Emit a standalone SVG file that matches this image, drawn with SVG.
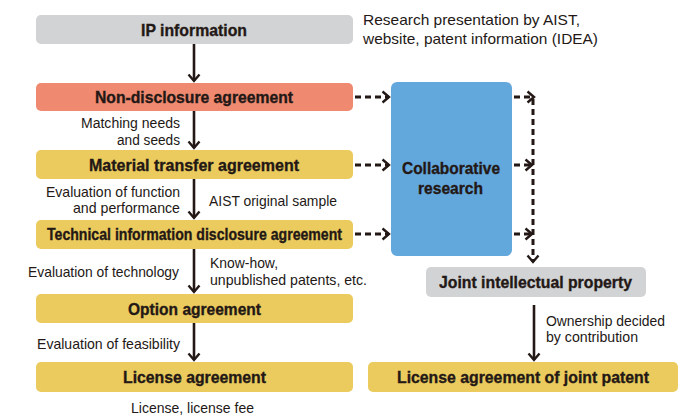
<svg xmlns="http://www.w3.org/2000/svg" width="700" height="416" viewBox="0 0 700 416">
<style>
.box{stroke:none}
.gray{fill:#d2d3d5}
.salmon{fill:#ef8a71}
.yellow{fill:#ebcb5d}
.blue{fill:#63a8dd}
.b{font-family:"Liberation Sans",Arial,sans-serif;font-weight:bold;font-size:17px;fill:#231815;stroke:#231815;stroke-width:0.35}
.t{font-family:"Liberation Sans",Arial,sans-serif;font-size:15px;fill:#231815}
.s{font-size:14px}
.solid{stroke:#231815;stroke-width:2.6;fill:none}
.dash{stroke:#231815;stroke-width:3;fill:none;stroke-dasharray:6 4}
</style>
<defs>
<marker id="ah" markerUnits="userSpaceOnUse" viewBox="0 0 14 14" markerWidth="14" markerHeight="14" refX="9" refY="7" orient="auto">
<path d="M2.5,1.5 L9,7 L2.5,12.5" fill="none" stroke="#231815" stroke-width="2.4"/>
</marker>
</defs>
<g id="connectors">
<line class="solid" x1="194" y1="44" x2="194" y2="81" marker-end="url(#ah)"/>
<line class="solid" x1="194" y1="111" x2="194" y2="148" marker-end="url(#ah)"/>
<line class="solid" x1="194" y1="179" x2="194" y2="218" marker-end="url(#ah)"/>
<line class="solid" x1="194" y1="249" x2="194" y2="292" marker-end="url(#ah)"/>
<line class="solid" x1="194" y1="323" x2="194" y2="360" marker-end="url(#ah)"/>
<line class="solid" x1="534" y1="305" x2="534" y2="360" marker-end="url(#ah)"/>
<line class="dash" x1="355" y1="97" x2="389" y2="97" marker-end="url(#ah)"/>
<line class="dash" x1="355" y1="165" x2="389" y2="165" marker-end="url(#ah)"/>
<line class="dash" x1="355" y1="234" x2="389" y2="234" marker-end="url(#ah)"/>
<line class="dash" x1="514" y1="97" x2="534" y2="97" marker-end="url(#ah)"/>
<line class="dash" x1="514" y1="165" x2="532" y2="165" marker-end="url(#ah)"/>
<line class="dash" x1="514" y1="234" x2="532" y2="234" marker-end="url(#ah)"/>
<line class="dash" x1="533" y1="99" x2="533" y2="262" marker-end="url(#ah)"/>
</g>
<g id="ip-info">
<rect class="box gray" x="36" y="15" width="317" height="29" rx="5"/>
<text class="b" x="141" y="36" textLength="106" lengthAdjust="spacingAndGlyphs">IP information</text>
</g>
<g id="ip-note">
<text class="t" x="363" y="25" textLength="217" lengthAdjust="spacingAndGlyphs">Research presentation by AIST,</text>
<text class="t" x="363" y="44" textLength="235" lengthAdjust="spacingAndGlyphs">website, patent information (IDEA)</text>
</g>
<g id="nda">
<rect class="box salmon" x="36" y="83" width="317" height="28" rx="5"/>
<text class="b" x="95" y="103" textLength="198" lengthAdjust="spacingAndGlyphs">Non-disclosure agreement</text>
</g>
<g id="label-matching">
<text class="t s" x="81" y="128" textLength="99" lengthAdjust="spacingAndGlyphs">Matching needs</text>
<text class="t s" x="117" y="145" textLength="63" lengthAdjust="spacingAndGlyphs">and seeds</text>
</g>
<g id="mta">
<rect class="box yellow" x="36" y="150" width="317" height="29" rx="5"/>
<text class="b" x="89" y="171" textLength="210" lengthAdjust="spacingAndGlyphs">Material transfer agreement</text>
</g>
<g id="label-function">
<text class="t" x="46" y="197" textLength="134" lengthAdjust="spacingAndGlyphs">Evaluation of function</text>
<text class="t" x="73" y="213" textLength="107" lengthAdjust="spacingAndGlyphs">and performance</text>
<text class="t" x="209" y="206" textLength="128" lengthAdjust="spacingAndGlyphs">AIST original sample</text>
</g>
<g id="tida">
<rect class="box yellow" x="36" y="220" width="317" height="29" rx="5"/>
<text class="b" x="47" y="240" textLength="295" lengthAdjust="spacingAndGlyphs">Technical information disclosure agreement</text>
</g>
<g id="label-technology">
<text class="t" x="28" y="277" textLength="151" lengthAdjust="spacingAndGlyphs">Evaluation of technology</text>
<text class="t" x="210" y="268" textLength="68" lengthAdjust="spacingAndGlyphs">Know-how,</text>
<text class="t" x="210" y="285" textLength="157" lengthAdjust="spacingAndGlyphs">unpublished patents, etc.</text>
</g>
<g id="option">
<rect class="box yellow" x="36" y="294" width="317" height="29" rx="5"/>
<text class="b" x="128" y="315" textLength="133" lengthAdjust="spacingAndGlyphs">Option agreement</text>
</g>
<g id="label-feasibility">
<text class="t" x="37" y="349" textLength="143" lengthAdjust="spacingAndGlyphs">Evaluation of feasibility</text>
</g>
<g id="license">
<rect class="box yellow" x="36" y="362" width="317" height="30" rx="5"/>
<text class="b" x="123" y="383" textLength="143" lengthAdjust="spacingAndGlyphs">License agreement</text>
</g>
<g id="label-fee">
<text class="t" x="131" y="413" textLength="123" lengthAdjust="spacingAndGlyphs">License, license fee</text>
</g>
<g id="collab">
<rect class="box blue" x="391" y="82" width="121" height="174" rx="6"/>
<text class="b" x="402" y="174" textLength="98" lengthAdjust="spacingAndGlyphs">Collaborative</text>
<text class="b" x="418" y="194" textLength="65" lengthAdjust="spacingAndGlyphs">research</text>
</g>
<g id="joint-ip">
<rect class="box gray" x="426" y="267" width="220" height="30" rx="5"/>
<text class="b" x="439" y="288" textLength="193" lengthAdjust="spacingAndGlyphs">Joint intellectual property</text>
</g>
<g id="label-ownership">
<text class="t" x="546" y="326" textLength="119" lengthAdjust="spacingAndGlyphs">Ownership decided</text>
<text class="t" x="546" y="342" textLength="92" lengthAdjust="spacingAndGlyphs">by contribution</text>
</g>
<g id="joint-license">
<rect class="box yellow" x="368" y="362" width="310" height="30" rx="5"/>
<text class="b" x="397" y="383" textLength="252" lengthAdjust="spacingAndGlyphs">License agreement of joint patent</text>
</g>
</svg>
